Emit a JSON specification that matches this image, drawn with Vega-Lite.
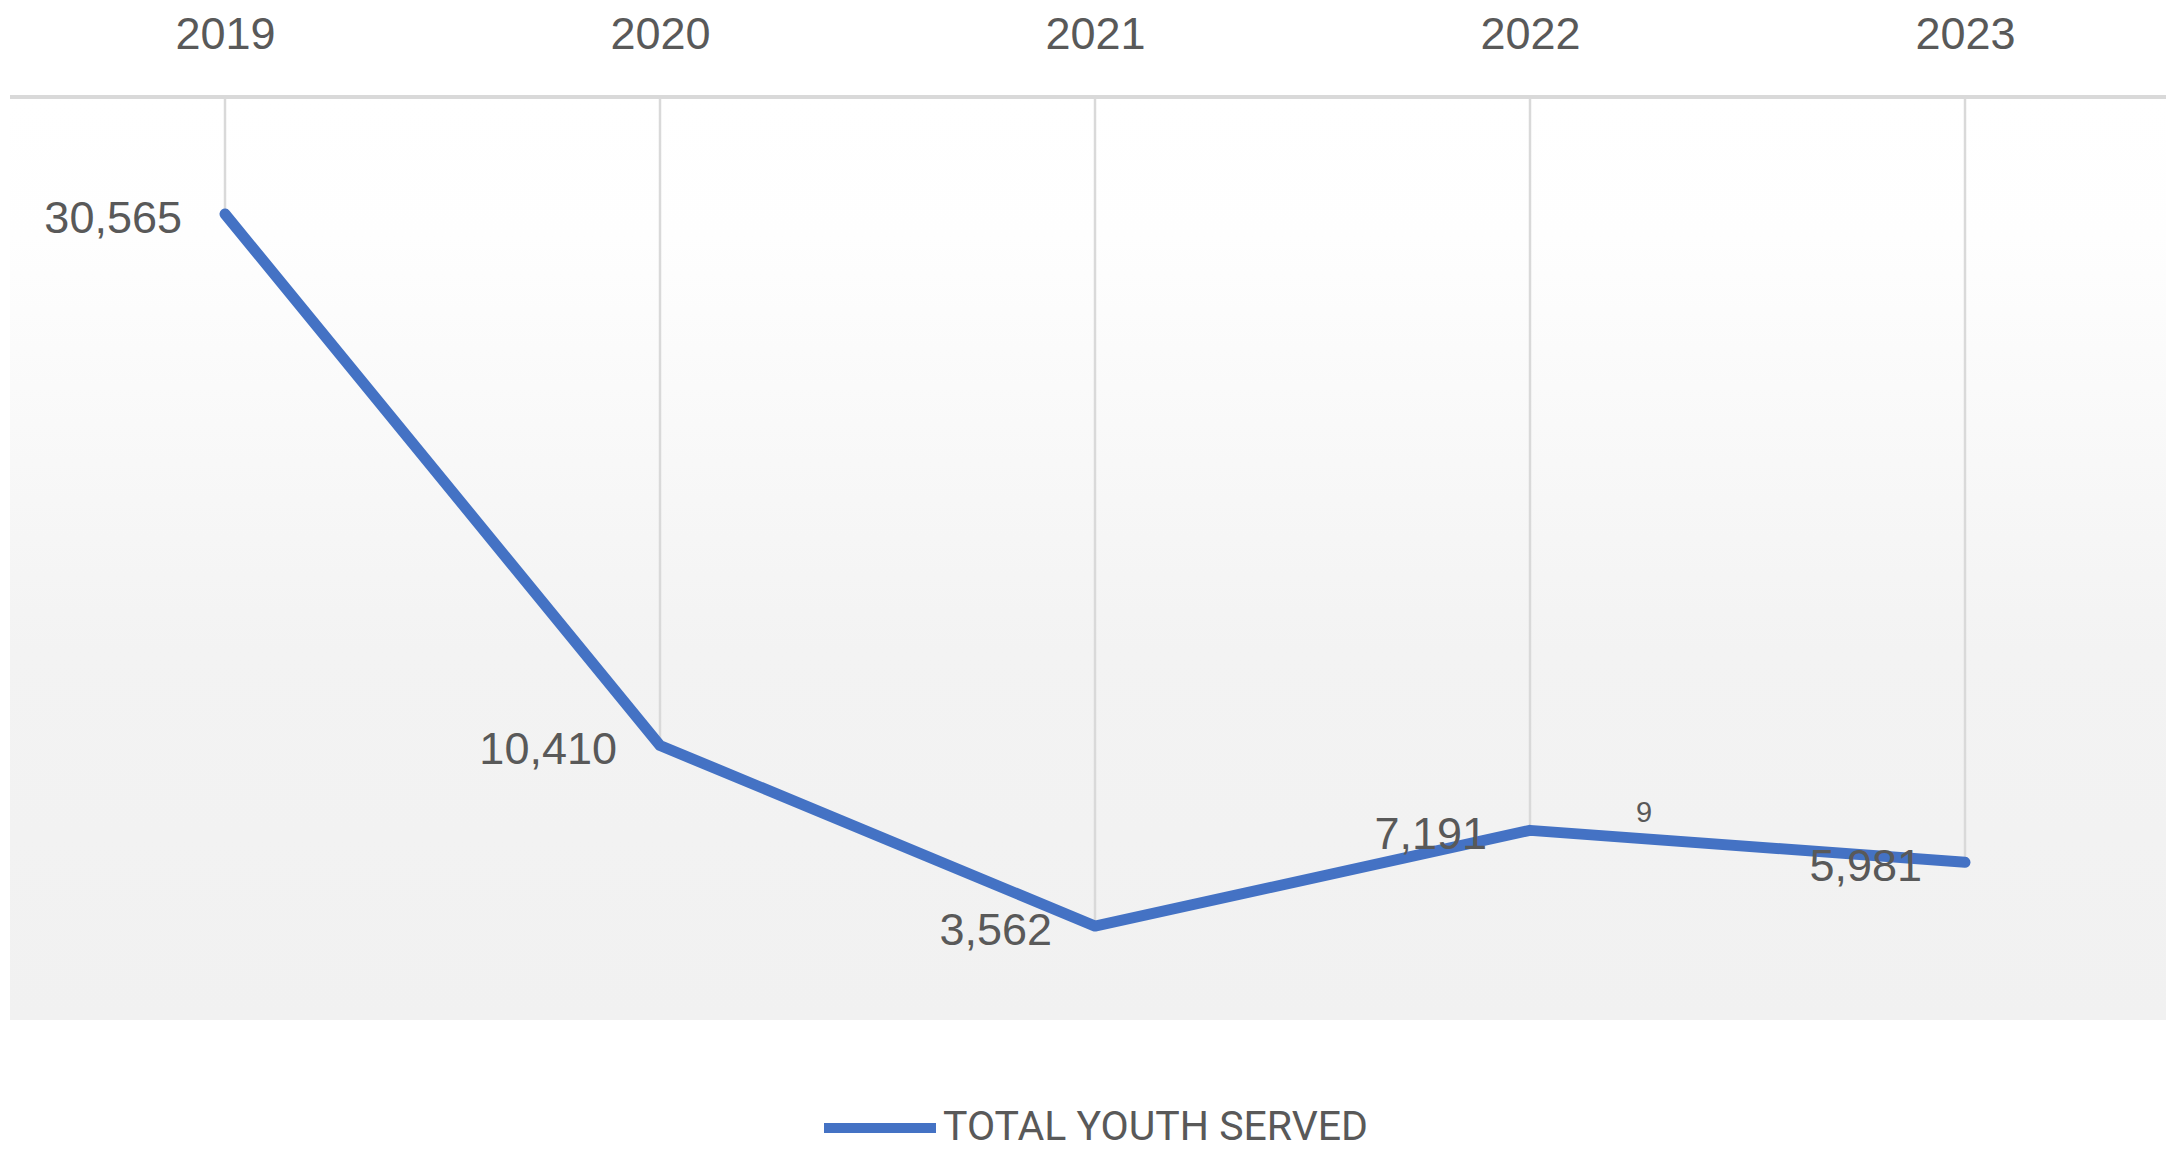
{
  "$schema": "https://vega.github.io/schema/vega-lite/v6.json",
  "autosize": "none",
  "width": 2156,
  "height": 923,
  "padding": {"left": 10, "top": 97, "right": 0, "bottom": 132},
  "background": "white",
  "config": {"view": {"stroke": null}},
  "datasets": {
    "main": [
      {"year": "2019", "value": 30565, "series": "TOTAL YOUTH SERVED"},
      {"year": "2020", "value": 10410, "series": "TOTAL YOUTH SERVED"},
      {"year": "2021", "value": 3562, "series": "TOTAL YOUTH SERVED"},
      {"year": "2022", "value": 7191, "series": "TOTAL YOUTH SERVED"},
      {"year": "2023", "value": 5981, "series": "TOTAL YOUTH SERVED"}
    ],
    "note": [{"year": "2022", "value": 7860, "label": "9"}],
    "bg": [{"top": 35000, "bottom": 0}]
  },
  "layer": [
    {
      "data": {"name": "bg"},
      "mark": {"type": "rect", "color": {"x1": 0, "y1": 0, "x2": 0, "y2": 1, "gradient": "linear", "stops": [{"offset": 0, "color": "#ffffff"}, {"offset": 0.15, "color": "#fefefe"}, {"offset": 0.6, "color": "#f3f3f3"}, {"offset": 1, "color": "#f1f1f1"}]}},
      "encoding": {
        "y": {"field": "top", "type": "quantitative", "scale": {"domain": [0, 35000], "nice": false, "zero": true}, "axis": null},
        "y2": {"field": "bottom"}
      }
    },
    {
      "data": {"name": "main"},
      "mark": {"type": "rule", "color": "#d9d9d9", "strokeWidth": 2.5},
      "encoding": {
        "x": {"field": "year", "type": "ordinal", "scale": {"type": "point", "range": [215, 1955], "padding": 0}, "axis": {"orient": "top", "title": null, "labelAngle": 0, "domain": false, "ticks": false, "tickSize": 0, "grid": false, "labelFont": "Liberation Sans", "labelFontSize": 45, "labelColor": "#595959", "labelBaseline": "alphabetic", "labelPadding": 49}},
        "y": {"field": "value", "type": "quantitative"},
        "y2": {"datum": 35000}
      }
    },
    {
      "data": {"name": "bg"},
      "mark": {"type": "rule", "color": "#d9d9d9", "strokeWidth": 4},
      "encoding": {"y": {"field": "top", "type": "quantitative"}}
    },
    {
      "data": {"name": "main"},
      "mark": {"type": "line", "strokeWidth": 11, "strokeCap": "round", "strokeJoin": "round"},
      "encoding": {
        "x": {"field": "year", "type": "ordinal"},
        "y": {"field": "value", "type": "quantitative"},
        "color": {"field": "series", "type": "nominal", "scale": {"range": ["#4472C4"]}, "legend": {"title": null, "orient": "none", "legendX": 837, "legendY": 998, "direction": "horizontal", "symbolType": "M-2,0H2", "symbolSize": 3136, "symbolStrokeWidth": 10, "labelFont": "Roboto", "labelFontSize": 41, "labelColor": "#595959", "labelOffset": 30, "labelLimit": 0, "padding": 0}}
      }
    },
    {
      "data": {"name": "main"},
      "mark": {"type": "text", "align": "right", "baseline": "middle", "dx": -43, "dy": 5, "font": "Liberation Sans", "fontSize": 45, "color": "#595959"},
      "encoding": {
        "x": {"field": "year", "type": "ordinal"},
        "y": {"field": "value", "type": "quantitative"},
        "text": {"field": "value", "type": "quantitative", "format": ","}
      }
    },
    {
      "data": {"name": "note"},
      "mark": {"type": "text", "align": "center", "baseline": "middle", "dx": 114, "font": "Liberation Sans", "fontSize": 29, "color": "#595959"},
      "encoding": {
        "x": {"field": "year", "type": "ordinal"},
        "y": {"field": "value", "type": "quantitative"},
        "text": {"field": "label"}
      }
    }
  ]
}
